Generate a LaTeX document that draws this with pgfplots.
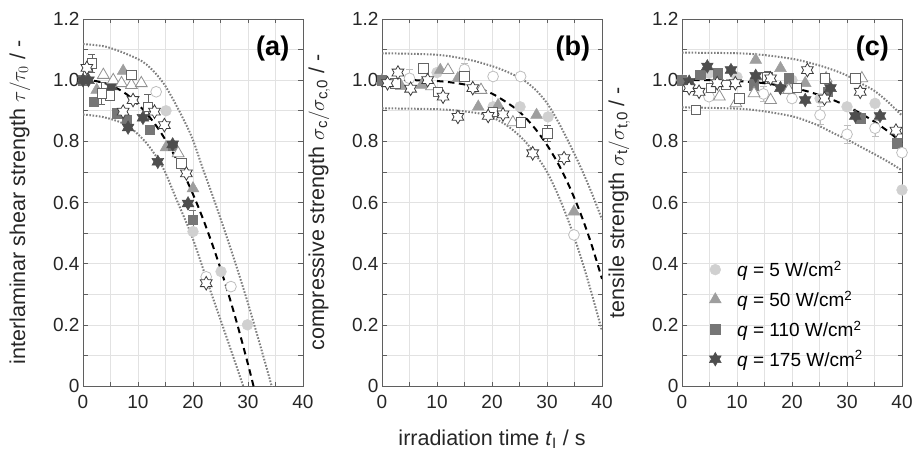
\documentclass[border=0pt]{standalone}
\usepackage{fontspec}
\setmainfont{Liberation Sans}
\usepackage{pgfplots}
\pgfplotsset{compat=1.18}

\definecolor{textc}{RGB}{38,38,38}
\definecolor{axisc}{RGB}{95,95,95}
\definecolor{gridc}{RGB}{226,226,226}
\definecolor{boundc}{RGB}{128,128,128}
\definecolor{cFC}{RGB}{208,208,208}
\definecolor{cFT}{RGB}{158,158,158}
\definecolor{cFS}{RGB}{118,118,118}
\definecolor{cFSt}{RGB}{78,78,78}
\definecolor{cOC}{RGB}{190,190,190}
\definecolor{cOT}{RGB}{145,145,145}
\definecolor{cOS}{RGB}{100,100,100}
\definecolor{cOSt}{RGB}{60,60,60}

\pgfdeclareplotmark{hexagram}{%
  \pgfpathmoveto{\pgfpointpolar{90}{\pgfplotmarksize}}%
  \pgfpathlineto{\pgfpointpolar{120}{0.5774\pgfplotmarksize}}%
  \pgfpathlineto{\pgfpointpolar{150}{\pgfplotmarksize}}%
  \pgfpathlineto{\pgfpointpolar{180}{0.5774\pgfplotmarksize}}%
  \pgfpathlineto{\pgfpointpolar{210}{\pgfplotmarksize}}%
  \pgfpathlineto{\pgfpointpolar{240}{0.5774\pgfplotmarksize}}%
  \pgfpathlineto{\pgfpointpolar{270}{\pgfplotmarksize}}%
  \pgfpathlineto{\pgfpointpolar{300}{0.5774\pgfplotmarksize}}%
  \pgfpathlineto{\pgfpointpolar{330}{\pgfplotmarksize}}%
  \pgfpathlineto{\pgfpointpolar{0}{0.5774\pgfplotmarksize}}%
  \pgfpathlineto{\pgfpointpolar{30}{\pgfplotmarksize}}%
  \pgfpathlineto{\pgfpointpolar{60}{0.5774\pgfplotmarksize}}%
  \pgfpathclose
  \pgfusepathqfillstroke
}

\tikzset{tag/.style={font=\fontsize{27}{30}\selectfont\bfseries, text=black}}

\pgfplotsset{
  panel/.style={
    scale only axis, width=220pt, height=367pt, anchor=south west,
    xmin=0, xmax=40, ymin=0, ymax=1.2,
    xtick={0,10,20,30,40},
    ytick={0,0.2,0.4,0.6,0.8,1.0,1.2},
    yticklabels={0,0.2,0.4,0.6,0.8,1.0,1.2},
    minor x tick num=1, minor y tick num=1,
    grid=both,
    major grid style={draw=gridc, line width=0.6pt},
    minor grid style={draw=gridc, line width=0.6pt},
    tick align=inside, major tick length=4.5pt, minor tick length=4.5pt,
    every tick/.style={draw=axisc, line width=0.6pt},
    axis line style={draw=axisc, line width=0.8pt},
    /pgf/number format/assume math mode=true,
    tick label style={font=\fontsize{19}{22}\selectfont, text=textc},
    xticklabel style={yshift=-6pt},
    label style={font=\fontsize{21.5}{25}\selectfont, text=textc},
    ylabel style={at={(axis description cs:-0.2636,0.5)}, anchor=base},
  },
  fitline/.style={black, line width=2pt, dash pattern=on 6.5pt off 4.5pt, smooth},
  bound/.style={boundc, line width=2pt, dash pattern=on 1.6pt off 1.6pt, smooth},
  fc/.style={color=cFC, only marks, mark=*, mark size=5.4pt, mark options={fill=cFC, draw=cFC, line width=0.5pt}},
  ft/.style={color=cFT, only marks, mark=triangle*, mark size=6.8pt, mark options={fill=cFT, draw=cFT, line width=0.5pt}},
  fs/.style={color=cFS, only marks, mark=square*, mark size=4.7pt, mark options={fill=cFS, draw=cFS, line width=0.5pt}},
  fst/.style={color=cFSt, only marks, mark=hexagram, mark size=6.8pt, mark options={fill=cFSt, draw=cFSt, line width=0.5pt}},
  oc/.style={color=cOC, only marks, mark=*, mark size=5.4pt, mark options={fill=white, draw=cOC, line width=0.8pt}},
  ot/.style={color=cOT, only marks, mark=triangle*, mark size=6.8pt, mark options={fill=white, draw=cOT, line width=0.8pt}},
  os/.style={color=cOS, only marks, mark=square*, mark size=4.7pt, mark options={fill=white, draw=cOS, line width=0.8pt}},
  ost/.style={color=cOSt, only marks, mark=hexagram, mark size=6.8pt, mark options={fill=white, draw=cOSt, line width=0.8pt}},
  eb/.style={error bars/y dir=both, error bars/y explicit,
    error bars/error bar style={line width=0.6pt},
    error bars/error mark options={rotate=90, mark size=3.5pt, line width=0.6pt}},
}

\begin{document}
\begin{tikzpicture}
\path[use as bounding box] (0,0) rectangle (917pt,455pt);

% ---------------- (a) ----------------
\begin{axis}[panel, at={(83pt,69pt)},
  ylabel={interlaminar shear strength $\tau/\tau_{0}$ / -}]
\addplot[fc] coordinates {(15.1,0.90) (20,0.505) (25.1,0.374) (29.9,0.2)};
\addplot[ft] coordinates {(0,1.0) (2.5,0.968) (7.3,1.03) (15.1,0.78) (20,0.646)};
\addplot[fs] coordinates {(0,1.0) (1.9,0.93) (6.1,0.892) (7.9,0.87) (12.1,0.837) (16.3,0.785)};
\addplot[fs, eb] coordinates {(20,0.543) +- (0,0.03)};
\addplot[fst] coordinates {(0,1.0) (1,1.0) (5.2,0.979) (8.2,0.845) (10.9,0.877) (13.6,0.733) (16.3,0.79) (19.1,0.597)};
\addplot[oc] coordinates {(13.3,0.962) (22.4,0.357) (26.9,0.325)};
\addplot[ot] coordinates {(3.7,1.017) (5.5,1.0) (7.0,0.99) (8.8,0.984) (10.6,0.99) (17.3,0.761)};
\addplot[os] coordinates {(4.9,0.95) (8.8,1.017) (17.9,0.728)};
\addplot[os, eb] coordinates {(1.6,1.055) +- (0,0.03) (3.4,0.957) +- (0,0.035) (11.8,0.913) +- (0,0.04)};
\addplot[ost] coordinates {(0.7,1.04) (7.3,0.897) (9.1,0.935) (13,0.897) (14.8,0.853) (18.8,0.695) (22.4,0.336)};
\addplot[bound] coordinates {(0,1.118) (4,1.11) (8,1.085) (11.5,1.052) (15,0.98) (19.4,0.83) (21.8,0.71) (24,0.60) (27.2,0.43) (30,0.27) (32.9,0.09) (34.3,0.0) (34.8,-0.03)};
\addplot[bound] coordinates {(0,0.888) (4,0.878) (8,0.852) (11.5,0.795) (14.5,0.715) (17,0.61) (20,0.48) (23,0.32) (26,0.165) (29.5,-0.02)};
\addplot[fitline] coordinates {(0,1.0) (2,0.998) (4,0.990) (6,0.975) (8,0.953) (10,0.921) (12,0.882) (14,0.833) (16,0.774) (18,0.706) (20,0.627) (22,0.538) (24,0.438) (26,0.327) (28,0.205) (30,0.071) (31,0.0) (32,-0.074)};
\node[tag] at (axis cs:34.5,1.105) {(a)};
\end{axis}

% ---------------- (b) ----------------
\begin{axis}[panel, at={(382pt,69pt)},
  ylabel={compressive strength $\sigma_{\mathrm{c}}/\sigma_{\mathrm{c,0}}$ / -},
  xlabel={irradiation time \textit{t}$_{\mathrm{I}}$ / s},
  xlabel style={at={(axis description cs:0.5,-0.1608)}, anchor=base}]
\addplot[fc] coordinates {(10,1.025) (20.2,0.913) (25.1,0.913) (30.2,0.88)};
\addplot[ft] coordinates {(0,1.0) (3.5,0.98) (7.2,0.984) (10.6,1.033) (13.8,1.006) (17.5,0.913) (21.1,0.918) (28.1,0.886) (34.9,0.57)};
\addplot[fs] coordinates {(0,1.0)};
\addplot[oc, eb] coordinates {(5,1.006) +- (0,0.03) (15,1.035) +- (0,0.02) (20.2,1.012) +- (0,0.012) (25.2,1.012) +- (0,0.012) (34.9,0.494) +- (0,0.012)};
\addplot[ot] coordinates {(9,0.98) (12,1.033) (18,0.968) (23.8,0.862)};
\addplot[os] coordinates {(2.4,0.99) (7.5,1.039) (10.2,0.962) (15,1.012) (20.2,0.897) (25.2,0.862)};
\addplot[os, eb] coordinates {(30.1,0.826) +- (0,0.025)};
\addplot[ost] coordinates {(1,0.99) (2.9,1.025) (5.2,0.972) (8.3,1.0) (11.1,0.946) (13.8,0.88) (16.5,0.974) (19.3,0.883) (22,0.888) (27.4,0.761) (33.1,0.745)};
\addplot[bound] coordinates {(0,1.088) (10,1.083) (16,1.066) (20,1.046) (22,1.033) (24,1.017) (26,0.997) (28,0.967) (30,0.925) (32,0.865) (34,0.795) (36,0.72) (38,0.637) (40,0.545)};
\addplot[bound] coordinates {(0,0.908) (10,0.905) (15,0.898) (19,0.886) (22,0.86) (24,0.834) (26,0.80) (28,0.755) (30,0.70) (32,0.625) (34,0.535) (36,0.43) (38,0.31) (40,0.18)};
\addplot[fitline] coordinates {(0,1.0) (4,1.0) (8,0.999) (12,0.994) (16,0.982) (20,0.956) (24,0.911) (26,0.879) (28,0.838) (30,0.788) (32,0.728) (34,0.655) (36,0.569) (38,0.468) (40,0.35)};
\node[tag] at (axis cs:34.7,1.105) {(b)};
\end{axis}

% ---------------- (c) ----------------
\begin{axis}[panel, at={(682pt,69pt)},
  ylabel={tensile strength $\sigma_{\mathrm{t}}/\sigma_{\mathrm{t,0}}$ / -},
  legend style={at={(axis cs:4.4,0.046)}, anchor=south west, draw=none, fill=none,
    font=\fontsize{19}{22}\selectfont, text=black, row sep=8.8pt, column sep=14pt},
  legend cell align=left]
\addplot[fc] coordinates {(0,1.0) (4.9,1.023) (10,1.01) (20,1.0) (25.1,0.94) (30,0.913) (35.1,0.924) (40,0.641)};
\addlegendentry{\textit{q} = 5 W/cm\textsuperscript{2}}
\addplot[ft] coordinates {(13.4,1.066) (17.9,1.039) (22.4,0.99)};
\addlegendentry{\textit{q} = 50 W/cm\textsuperscript{2}}
\addplot[fs] coordinates {(0,1.0) (3.3,1.017) (6.5,1.023) (13,0.984) (19.4,1.006) (26.5,0.962) (32.4,0.875) (39,0.794)};
\addlegendentry{\textit{q} = 110 W/cm\textsuperscript{2}}
\addplot[fst] coordinates {(1.3,0.995) (4.6,1.045) (8.9,1.033) (13.4,1.014) (17.9,0.974) (22.4,0.935) (27,0.974) (31.5,0.883) (36,0.883)};
\addlegendentry{\textit{q} = 175 W/cm\textsuperscript{2}}
\addplot[oc, forget plot] coordinates {(4.9,0.946) (20,0.94) (40,0.763)};
\addplot[oc, eb, forget plot] coordinates {(14.8,0.955) +- (0,0.025) (25.1,0.886) +- (0,0.03) (30,0.823) +- (0,0.03) (35.1,0.843) +- (0,0.025)};
\addplot[ot, forget plot] coordinates {(6.8,0.946) (9.8,0.924) (13.1,0.957) (16.1,0.935) (19.4,0.968) (26.2,1.006) (32.7,1.006)};
\addplot[os, forget plot] coordinates {(2.5,0.903) (5.2,0.974) (8,0.984) (10.4,0.94) (20.9,0.974) (26,1.006) (31.5,1.006)};
\addplot[os, eb, forget plot] coordinates {(15.5,1.01) +- (0,0.02)};
\addplot[ost, forget plot] coordinates {(1.3,0.974) (3.1,0.962) (6.4,0.99) (9.7,0.99) (16.1,1.006) (22.8,1.033) (25.9,0.94) (32.4,0.962) (38.9,0.835)};
\addplot[bound, forget plot] coordinates {(0,1.09) (10,1.088) (15,1.082) (20,1.07) (22.5,1.06) (25,1.048) (28,1.03) (30,1.015) (32.5,0.99) (35,0.965) (37.5,0.928) (40,0.884)};
\addplot[bound, forget plot] coordinates {(0,0.911) (10,0.907) (15,0.898) (20,0.882) (22.5,0.868) (25,0.85) (27.5,0.827) (30,0.806) (32.5,0.782) (35,0.758) (37.5,0.733) (40,0.705)};
\addplot[fitline, forget plot] coordinates {(0,1.0) (5,1.0) (10,0.997) (15,0.990) (20,0.975) (22.5,0.965) (25,0.951) (27.5,0.935) (30,0.915) (32.5,0.891) (35,0.864) (37.5,0.832) (40,0.795)};
\node[tag] at (axis cs:34.6,1.105) {(c)};
\end{axis}
\end{tikzpicture}
\end{document}
